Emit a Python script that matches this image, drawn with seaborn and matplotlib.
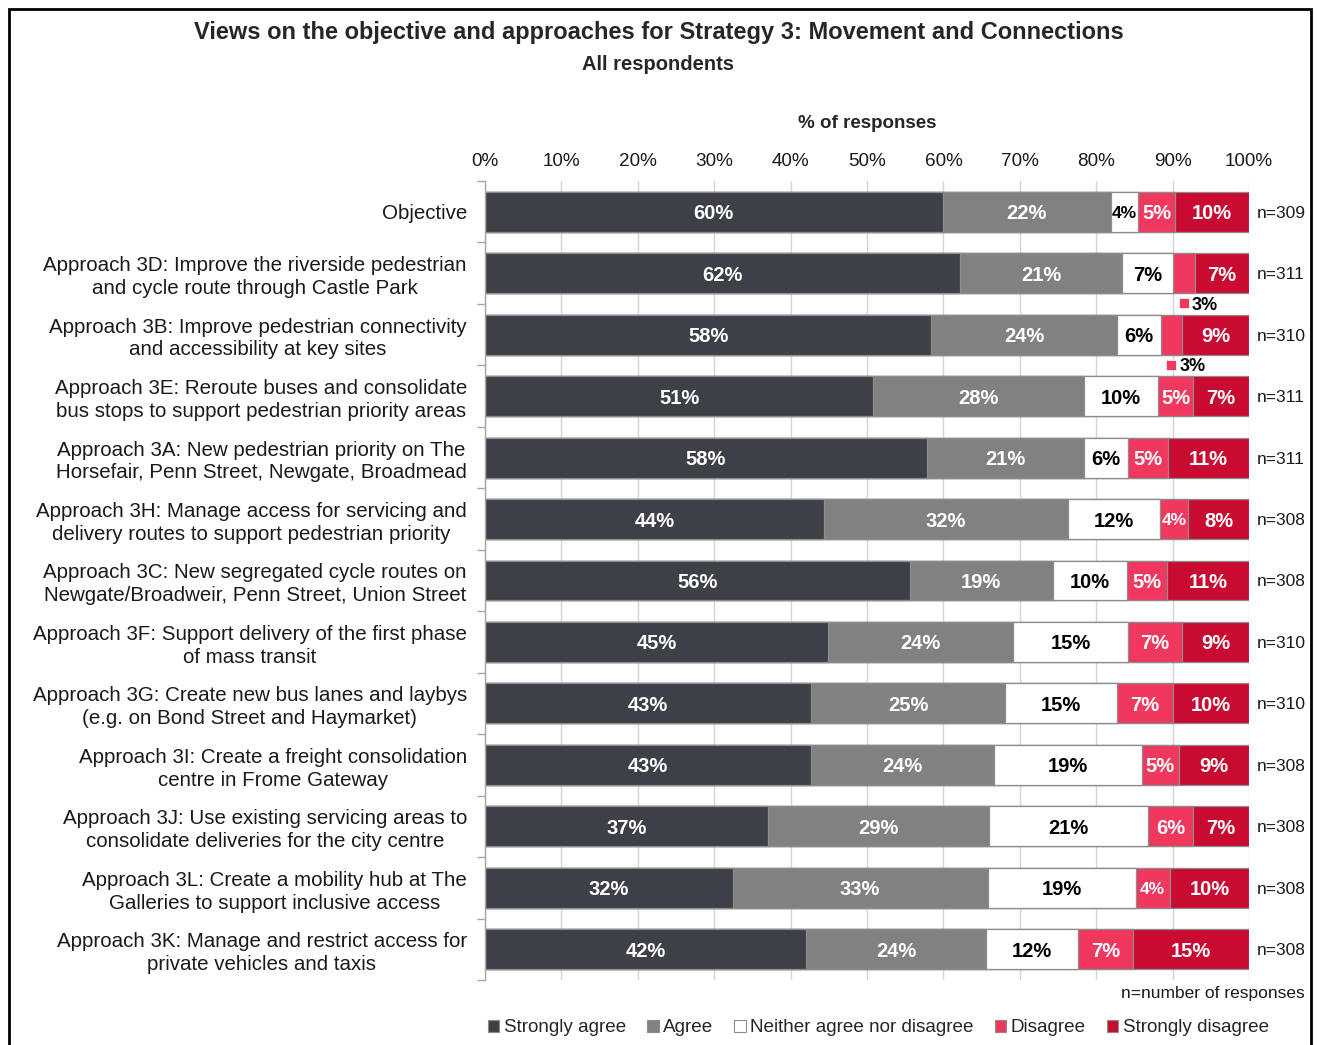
import numpy as np
import pandas as pd
import seaborn as sns
import matplotlib.pyplot as plt
from matplotlib.patches import Patch, Rectangle

sns.set_theme(style="white")
plt.rcParams['font.family'] = ['Liberation Sans', 'DejaVu Sans']

# Survey items (tick labels, wrapped as displayed)
items = [
    "Objective",
    "Approach 3D: Improve the riverside pedestrian\nand cycle route through Castle Park",
    "Approach 3B: Improve pedestrian connectivity\nand accessibility at key sites",
    "Approach 3E: Reroute buses and consolidate\nbus stops to support pedestrian priority areas",
    "Approach 3A: New pedestrian priority on The\nHorsefair, Penn Street, Newgate, Broadmead",
    "Approach 3H: Manage access for servicing and\ndelivery routes to support pedestrian priority",
    "Approach 3C: New segregated cycle routes on\nNewgate/Broadweir, Penn Street, Union Street",
    "Approach 3F: Support delivery of the first phase\nof mass transit",
    "Approach 3G: Create new bus lanes and laybys\n(e.g. on Bond Street and Haymarket)",
    "Approach 3I: Create a freight consolidation\ncentre in Frome Gateway",
    "Approach 3J: Use existing servicing areas to\nconsolidate deliveries for the city centre",
    "Approach 3L: Create a mobility hub at The\nGalleries to support inclusive access",
    "Approach 3K: Manage and restrict access for\nprivate vehicles and taxis",
]
n_resp = [309, 311, 310, 311, 311, 308, 308, 310, 310, 308, 308, 308, 308]

# Percentage of responses per answer
strongly_agree = [59.9, 62.2, 58.4, 50.8, 57.8, 44.4, 55.6, 44.9, 42.7, 42.7, 37.0, 32.4, 42.0]
agree = [22.0, 21.2, 24.3, 27.6, 20.6, 31.9, 18.7, 24.2, 25.4, 23.9, 29.0, 33.4, 23.6]
neither = [3.6, 6.7, 5.8, 9.7, 5.8, 12.1, 9.7, 15.1, 14.6, 19.4, 20.8, 19.4, 12.0]
disagree = [4.8, 2.8, 2.7, 4.6, 5.2, 3.6, 5.3, 7.0, 7.4, 4.8, 5.8, 4.4, 7.2]
strongly_disagree = [9.7, 7.1, 8.8, 7.3, 10.6, 8.0, 10.7, 8.8, 9.9, 9.2, 7.4, 10.4, 15.2]

responses = ["Strongly agree", "Agree", "Neither agree nor disagree",
             "Disagree", "Strongly disagree"]
colors = ["#3E4047", "#818181", "#FFFFFF", "#F0385F", "#C90B31"]
text_colors = ["white", "white", "black", "white", "white"]
edge = "#8C8C8C"

df = pd.DataFrame({
    "item": items,
    responses[0]: strongly_agree,
    responses[1]: agree,
    responses[2]: neither,
    responses[3]: disagree,
    responses[4]: strongly_disagree,
})
cum = df[responses].cumsum(axis=1)
cum.columns = [f"cum_{i}" for i in range(len(responses))]
df = pd.concat([df, cum], axis=1)

fig = plt.figure(figsize=(13.17, 10.45), dpi=100)
ax = fig.add_axes([0.3683, 0.0622, 0.5801, 0.7646])

# Stacked bars: draw cumulative totals from the outermost segment inwards
for k in reversed(range(len(responses))):
    sns.barplot(data=df, x=f"cum_{k}", y="item", order=items, orient="h",
                color=colors[k], saturation=1, width=0.65,
                edgecolor=edge, linewidth=0.9, ax=ax)

ax.set_xlim(0, 100)
ax.set_ylim(len(items) - 0.5, -0.5)

# Segment value labels
for i in range(len(items)):
    left = 0.0
    for k, r in enumerate(responses):
        v = df.loc[i, r]
        c = left + v / 2
        label = f"{round(v):.0f}%"
        if v < 3.2:
            ax.plot(c, i + 0.49, marker="s", ms=7, color=colors[k],
                    mec="white", mew=0.5, clip_on=False, zorder=5)
            ax.text(c + 1.0, i + 0.49, label, ha="left", va="center_baseline",
                    fontsize=13, fontweight="bold", color="black", zorder=5)
        else:
            fs = 12.5 if v < 4.5 else 14.5
            ax.text(c, i, label, ha="center", va="center_baseline", fontsize=fs,
                    fontweight="bold", color=text_colors[k], zorder=5)
        left += v
    ax.text(101, i, f"n={n_resp[i]}", ha="left", va="center_baseline",
            fontsize=12.5, color="#1a1a1a")

# Axes styling
ax.xaxis.tick_top()
ax.set_xticks(np.arange(0, 101, 10))
ax.set_xticklabels([f"{t}%" for t in range(0, 101, 10)])
ax.tick_params(axis="x", length=0, pad=8, labelsize=13.6, colors="#1a1a1a")
ax.set_xlabel("")
ax.set_ylabel("")
ax.tick_params(axis="y", which="major", length=0, pad=13, labelsize=14.8,
               colors="#1a1a1a")
for lbl in ax.get_yticklabels():
    lbl.set_multialignment("center")
    lbl.set_linespacing(1.25)
ax.set_yticks(np.arange(-0.5, len(items), 1), minor=True)
ax.tick_params(axis="y", which="minor", left=True, length=6, width=1,
               color="#A6A6A6", direction="out")
ax.grid(axis="x", color="#D4D4D4", linewidth=1)
ax.set_axisbelow(True)
for s in ["top", "right", "bottom"]:
    ax.spines[s].set_visible(False)
ax.spines["left"].set_color("#A6A6A6")
ax.spines["left"].set_linewidth(1)

# Titles and notes
fig.text(0.5, 0.969, "Views on the objective and approaches for Strategy 3: Movement and Connections",
         ha="center", va="center", fontsize=17, fontweight="bold")
fig.text(0.5, 0.938, "All respondents", ha="center", va="center",
         fontsize=14.5, fontweight="bold")
fig.text(0.6585, 0.882, "% of responses", ha="center", va="center",
         fontsize=13.5, fontweight="bold")
fig.text(0.991, 0.049, "n=number of responses", ha="right", va="center",
         fontsize=12.5, color="#1a1a1a")

handles = [Patch(facecolor=c, edgecolor=edge, linewidth=0.8) for c in colors]
fig.legend(handles, responses, loc="center", bbox_to_anchor=(0.667, 0.0163),
           ncol=5, frameon=False, fontsize=13.6, handlelength=0.6,
           handleheight=0.6, handletextpad=0.25, columnspacing=1.1)

# Outer frame
fig.add_artist(Rectangle((0.0065, -0.02), 0.989, 1.011, transform=fig.transFigure,
                         fill=False, edgecolor="black", linewidth=2))

fig.savefig("out.png", dpi=100)
